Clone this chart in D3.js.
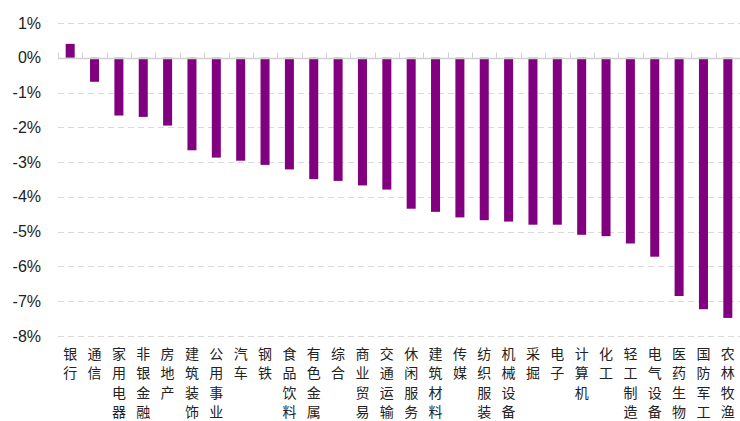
<!DOCTYPE html>
<html>
<head>
<meta charset="utf-8">
<script src="https://cdn.jsdelivr.net/npm/d3@7"></script>
<style>
  body { margin: 0; background: #fff; }
  svg { display: block; }
</style>
</head>
<body>
<div id="chart"></div>
<script>
// Industry names and returns (%)
const categories = ['银行', '通信', '家用电器', '非银金融', '房地产', '建筑装饰', '公用事业', '汽车', '钢铁',
  '食品饮料', '有色金属', '综合', '商业贸易', '交通运输', '休闲服务', '建筑材料', '传媒', '纺织服装',
  '机械设备', '采掘', '电子', '计算机', '化工', '轻工制造', '电气设备', '医药生物', '国防军工', '农林牧渔'];
const values = [0.40, -0.69, -1.66, -1.70, -1.95, -2.66, -2.87, -2.96, -3.08,
  -3.21, -3.49, -3.54, -3.67, -3.79, -4.34, -4.43, -4.59, -4.67,
  -4.71, -4.80, -4.80, -5.09, -5.13, -5.34, -5.72, -6.85, -7.23, -7.48];
const yTicks = [1, 0, -1, -2, -3, -4, -5, -6, -7, -8];

const width = 740;
const height = 421;
const margin = { top: 23, right: 0, bottom: 85, left: 58 };

const svg = d3.select('#chart')
  .append('svg')
  .attr('width', width)
  .attr('height', height);

const x = d3.scaleBand()
  .domain(categories)
  .range([margin.left, width - margin.right])
  .paddingInner(0.63)
  .paddingOuter(0.315);

const y = d3.scaleLinear()
  .domain([-8, 1])
  .range([336, margin.top]);

// Gridlines
svg.append('g')
  .selectAll('line')
  .data(yTicks.filter(d => d !== 0))
  .join('line')
  .attr('x1', margin.left)
  .attr('x2', width)
  .attr('y1', d => Math.round(y(d)) + 0.5)
  .attr('y2', d => Math.round(y(d)) + 0.5)
  .attr('stroke', '#d9d9d9')
  .attr('stroke-width', 1)
  .attr('stroke-dasharray', '6,4');

// Y axis labels
svg.append('g')
  .selectAll('text')
  .data(yTicks)
  .join('text')
  .attr('x', 41)
  .attr('y', d => y(d))
  .attr('dy', '0.35em')
  .attr('text-anchor', 'end')
  .attr('font-family', 'Liberation Sans, Arial, sans-serif')
  .attr('font-size', '16px')
  .attr('fill', '#222')
  .text(d => d + '%');

// Bars
svg.append('g')
  .selectAll('rect')
  .data(values)
  .join('rect')
  .attr('x', (d, i) => x(categories[i]))
  .attr('width', x.bandwidth())
  .attr('y', d => y(Math.max(0, d)))
  .attr('height', d => Math.abs(y(d) - y(0)))
  .attr('fill', '#800080');

// Zero baseline with tick marks at band edges
const y0 = Math.round(y(0)) + 0.5;
svg.append('line')
  .attr('x1', margin.left)
  .attr('x2', width)
  .attr('y1', y0)
  .attr('y2', y0)
  .attr('stroke', '#d0d0d0')
  .attr('stroke-width', 1.5);

const step = x.step();
svg.append('g')
  .selectAll('line')
  .data(d3.range(categories.length + 1))
  .join('line')
  .attr('x1', i => Math.round(margin.left + i * step) + 0.5)
  .attr('x2', i => Math.round(margin.left + i * step) + 0.5)
  .attr('y1', y0)
  .attr('y2', y0 - 6)
  .attr('stroke', '#d0d0d0')
  .attr('stroke-width', 1);

// Category labels, one character per line
const labels = svg.append('g')
  .selectAll('text')
  .data(categories)
  .join('text')
  .attr('text-anchor', 'middle')
  .attr('font-family', 'Noto Sans CJK SC, sans-serif')
  .attr('font-size', '14px')
  .attr('fill', '#222');

labels.each(function (d) {
  const t = d3.select(this);
  const cx = x(d) + x.bandwidth() / 2;
  Array.from(d).forEach((ch, k) => {
    t.append('tspan')
      .attr('x', cx)
      .attr('y', 359 + k * 19.3)
      .text(ch);
  });
});
</script>
</body>
</html>
